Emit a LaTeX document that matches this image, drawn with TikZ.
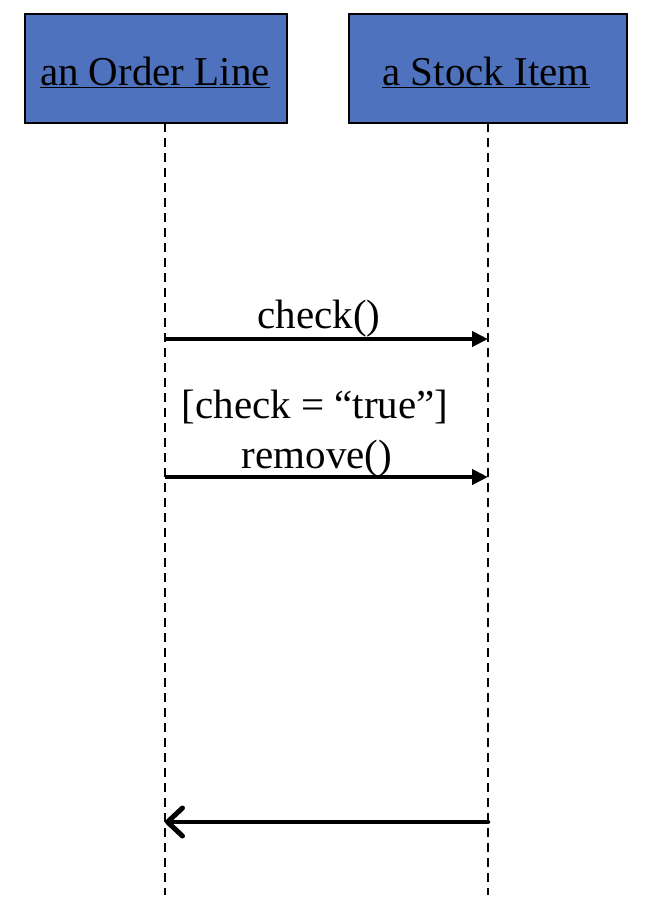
\documentclass[tikz,border=0pt]{standalone}
\usepackage{fontspec}
\setmainfont{Liberation Serif}
\usetikzlibrary{arrows.meta}
\definecolor{boxblue}{HTML}{4F72BE}
\begin{document}
\begin{tikzpicture}[x=1pt,y=1pt,
  objbox/.style={draw=black,line width=2.8pt,fill=boxblue,minimum height=109pt,inner sep=0pt,font=\fontsize{41}{44}\selectfont},
  lifeline/.style={line width=1.6pt,dash pattern=on 9pt off 6pt},
  msg/.style={line width=4.5pt,-{Triangle[length=16pt,width=15pt]}},
  retmsg/.style={line width=4.5pt,line cap=round,-{Straight Barb[length=15pt,width=28pt,round,line width=5pt]}},
  lbl/.style={font=\fontsize{41}{44}\selectfont,inner sep=0pt,anchor=base}]
\useasboundingbox (0,0) rectangle (648,-914);
\node[objbox,minimum width=262pt] (ol) at (156,-68.5) {};
\node[objbox,minimum width=278pt] (si) at (488,-68.5) {};
\node[lbl] (oltxt) at (155,-85) {\underline{an Order Line}};
\node[lbl] (sitxt) at (486,-85) {\underline{a Stock Item}};
\coordinate (olend) at (165,-895);
\coordinate (siend) at (488,-895);
\draw[lifeline] (165,-123) coordinate (oltop) -- (olend);
\draw[lifeline] (488,-123) coordinate (sitop) -- (siend);
\coordinate (c1a) at (165,-339);
\coordinate (c1b) at (488,-339);
\coordinate (c2a) at (165,-477);
\coordinate (c2b) at (488,-477);
\coordinate (c3a) at (165,-822);
\coordinate (c3b) at (488,-822);
\draw[msg] (c1a) -- (c1b);
\draw[msg] (c2a) -- (c2b);
\draw[retmsg] (c3b) -- (c3a);
\node[lbl] (l1) at (319,-328) {check()};
\node[lbl] (l2) at (315,-418) {[check = “true”]};
\node[lbl] (l3) at (317,-468) {remove()};
\end{tikzpicture}
\end{document}
